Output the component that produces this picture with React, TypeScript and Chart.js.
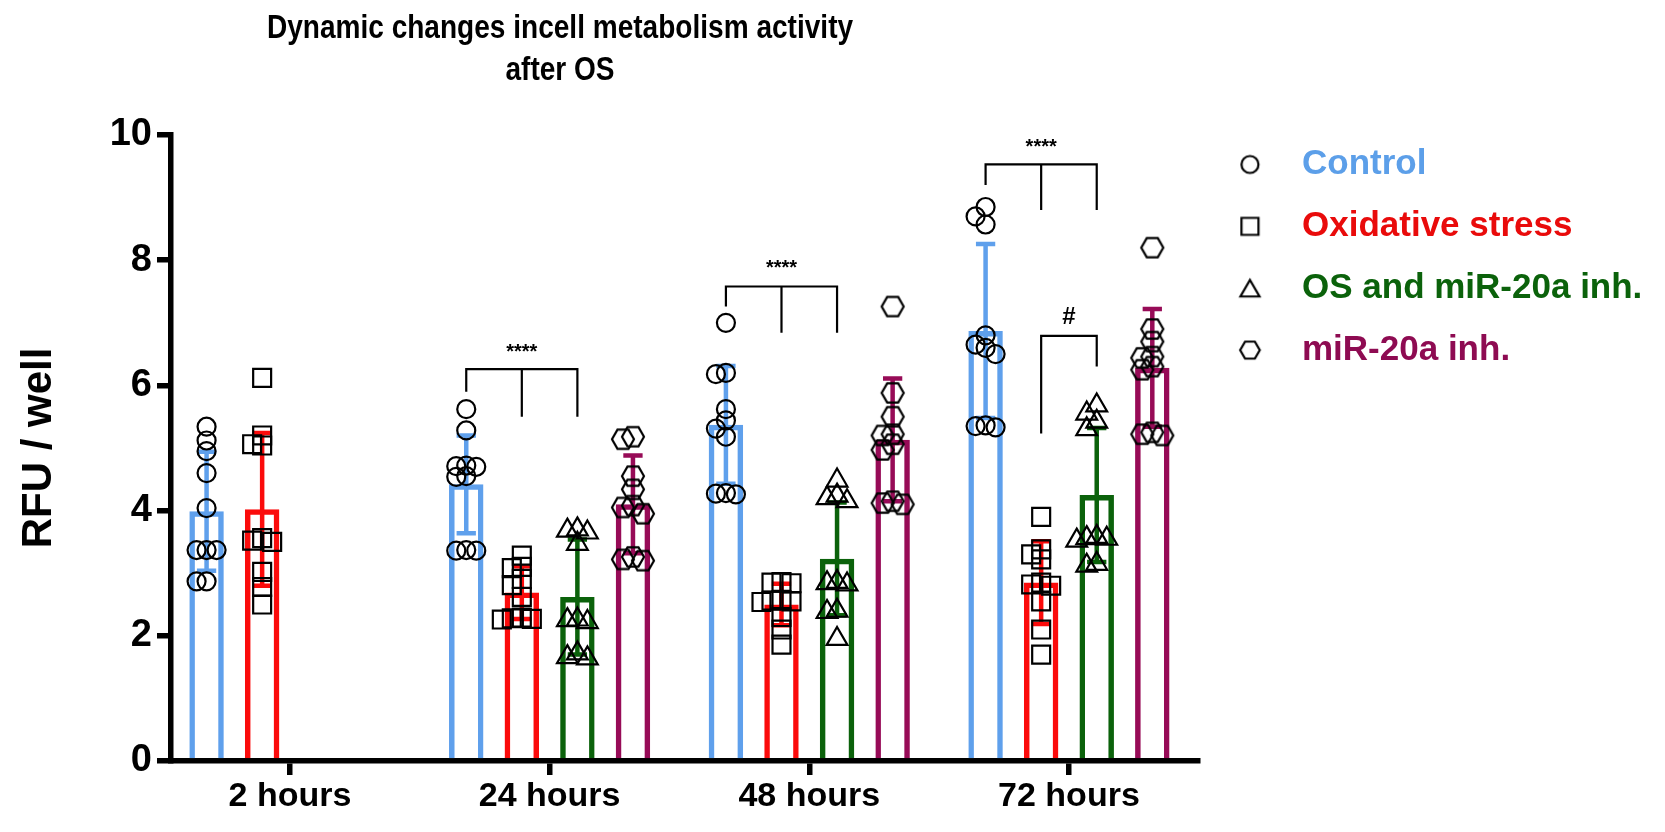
import React, { useEffect, useRef } from "react";
import { Chart, registerables } from "chart.js";

Chart.register(...registerables);

// ---------------- data ----------------
const categories = ["2 hours", "24 hours", "48 hours", "72 hours"];
const seriesNames = ["Control", "Oxidative stress", "OS and miR-20a inh.", "miR-20a inh."];

const controlMean = [3.99, 4.42, 5.37, 6.87];
const controlSD = [0.95, 0.78, 0.94, 1.39];
const oxidativeMean = [4.02, 2.69, 2.5, 2.85];
const oxidativeSD = [1.22, 0.42, 0.33, 0.66];
const osInhMean: (number | null)[] = [null, 2.62, 3.23, 4.25];
const osInhSD: (number | null)[] = [null, 0.92, 0.9, 1.07];
const inhMean: (number | null)[] = [null, 4.1, 5.13, 6.28];
const inhSD: (number | null)[] = [null, 0.78, 0.98, 0.94];

const controlPoints = [
  [5.34, 5.12, 4.95, 4.6, 4.04, 3.37, 3.37, 3.37, 2.87, 2.87],
  [5.62, 5.28, 4.72, 4.71, 4.7, 4.55, 4.54, 3.37, 3.36, 3.36],
  [7.0, 6.2, 6.18, 5.62, 5.44, 5.31, 5.18, 4.28, 4.27, 4.26],
  [8.85, 8.7, 8.57, 6.8, 6.65, 6.6, 6.5, 5.36, 5.35, 5.33],
];
const oxidativePoints = [
  [6.12, 5.2, 5.06, 5.04, 3.56, 3.52, 3.5, 3.02, 2.78, 2.5],
  [3.28, 3.1, 3.08, 2.91, 2.81, 2.62, 2.29, 2.28, 2.27, 2.26],
  [2.86, 2.85, 2.84, 2.57, 2.56, 2.55, 2.54, 2.3, 2.1, 1.86],
  [3.9, 3.38, 3.3, 3.22, 2.85, 2.82, 2.8, 2.55, 2.1, 1.7],
];
const osInhPoints: number[][] = [
  [],
  [3.7, 3.68, 3.65, 3.47, 2.26, 2.25, 2.22, 1.72, 1.66, 1.64],
  [4.48, 4.24, 4.2, 4.15, 2.86, 2.84, 2.82, 2.4, 2.38, 1.95],
  [5.68, 5.55, 5.42, 5.3, 3.58, 3.56, 3.55, 3.52, 3.15, 3.12],
];
const inhPoints: number[][] = [
  [],
  [5.18, 5.14, 4.55, 4.34, 4.08, 4.05, 3.95, 3.26, 3.22, 3.2],
  [7.26, 5.88, 5.5, 5.22, 5.2, 5.06, 4.97, 4.15, 4.12, 4.1],
  [8.2, 6.9, 6.7, 6.46, 6.44, 6.3, 6.25, 5.25, 5.22, 5.2],
];

const yTicks = [0, 2, 4, 6, 8, 10];

// significance brackets
const bracketCategory = [1, 2, 3, 3];
const bracketFromSeries = [0, 0, 0, 1];
const bracketMidSeries: (number | null)[] = [1, 1, 1, null];
const bracketToSeries = [2, 2, 2, 2];
const bracketTop = [6.26, 7.58, 9.53, 6.79];
const bracketFromEnd = [5.9, 7.26, 9.2, 5.23];
const bracketToEnd = [5.5, 6.84, 8.8, 6.3];
const bracketLabels = ["****", "****", "****", "#"];
const bracketLabelY = [6.52, 7.86, 9.8, 7.08];

const titleLines = ["Dynamic changes incell metabolism activity", "after OS"];
const yAxisTitle = "RFU / well";

// ---------------- layout / style ----------------
const W = 1665;
const H = 832;
const PLOT_LEFT = 171;
const PLOT_RIGHT = 1198;
const PLOT_TOP = 135;
const PLOT_BOTTOM = 761;
const X_MIN = -0.458;
const X_MAX = 3.497;
const CAT_PCT = 0.856;
const BAR_PCT = 0.62;
const PX_PER_X = (PLOT_RIGHT - PLOT_LEFT) / (X_MAX - X_MIN);
const PX_PER_Y = (PLOT_BOTTOM - PLOT_TOP) / 10;

const barColors = ["#5fa0ec", "#fb0b0b", "#0b620b", "#970b57"];
const legendTextColors = ["#5c9fe9", "#e90b0b", "#0b620b", "#8e0b52"];

const means = [controlMean, oxidativeMean, osInhMean, inhMean];
const sds = [controlSD, oxidativeSD, osInhSD, inhSD];
const points = [controlPoints, oxidativePoints, osInhPoints, inhPoints];

function markerCanvas(kind: string, w: number, h: number, s: number, lw: number, dx = 0) {
  const c = document.createElement("canvas");
  c.width = w;
  c.height = h;
  const g = c.getContext("2d")!;
  g.strokeStyle = "#000";
  g.lineWidth = lw;
  const cx = w / 2 + dx;
  let cy = h / 2;
  g.beginPath();
  if (kind === "circle") {
    g.arc(cx, cy, s, 0, Math.PI * 2);
  } else if (kind === "square") {
    g.rect(cx - s, cy - s, 2 * s, 2 * s);
  } else if (kind === "triangle") {
    cy += s / 4;
    for (let k = 0; k < 3; k++) {
      const a = -Math.PI / 2 + (k * 2 * Math.PI) / 3;
      const px = cx + s * Math.cos(a);
      const py = cy + s * Math.sin(a);
      if (k === 0) g.moveTo(px, py);
      else g.lineTo(px, py);
    }
  } else {
    for (let k = 0; k < 6; k++) {
      const a = (k * Math.PI) / 3;
      const px = cx + s * Math.cos(a);
      const py = cy + s * Math.sin(a);
      if (k === 0) g.moveTo(px, py);
      else g.lineTo(px, py);
    }
  }
  g.closePath();
  g.stroke();
  return c;
}

// spread overlapping points sideways (pixel-space swarm)
function swarm(values: number[], center: number) {
  const step = 10;
  const placed: { px: number; py: number }[] = [];
  const out: { x: number; y: number }[] = [];
  const order = values.map((_, i) => i).sort((a, b) => values[b] - values[a]);
  for (const i of order) {
    const py = values[i] * PX_PER_Y;
    let chosen = 0;
    for (let k = 0; k < 15; k++) {
      const m = Math.ceil(k / 2);
      const cand = k === 0 ? 0 : (k % 2 === 1 ? -m : m) * step;
      if (placed.every((p) => Math.hypot(p.px - cand, p.py - py) >= step)) {
        chosen = cand;
        break;
      }
    }
    placed.push({ px: chosen, py });
    out.push({ x: center + chosen / PX_PER_X, y: values[i] });
  }
  return out;
}

const errorBarPlugin = {
  id: "errorBars",
  afterDatasetDraw(chart: any, args: any) {
    const idx = args.index;
    if (idx > 3) return;
    const meta = chart.getDatasetMeta(idx);
    const yScale = chart.scales.y;
    const ctx = chart.ctx;
    ctx.save();
    ctx.strokeStyle = barColors[idx];
    ctx.lineWidth = 4.5;
    means[idx].forEach((m, c) => {
      const sd = sds[idx][c];
      if (m == null || sd == null) return;
      const el = meta.data[c];
      const x = el.x;
      const half = el.width * 0.28;
      const yT = yScale.getPixelForValue(m + sd);
      const yB = yScale.getPixelForValue(m - sd);
      ctx.beginPath();
      ctx.moveTo(x, yT);
      ctx.lineTo(x, yB);
      ctx.moveTo(x - half, yT);
      ctx.lineTo(x + half, yT);
      ctx.moveTo(x - half, yB);
      ctx.lineTo(x + half, yB);
      ctx.stroke();
    });
    ctx.restore();
  },
};

const bracketPlugin = {
  id: "sigBrackets",
  afterDatasetsDraw(chart: any, _a: any, opts: any) {
    const ctx = chart.ctx;
    const y = chart.scales.y;
    const barX = (s: number, c: number) => chart.getDatasetMeta(s).data[c].x;
    ctx.save();
    ctx.strokeStyle = "#000";
    ctx.fillStyle = "#000";
    ctx.lineWidth = 2.2;
    bracketCategory.forEach((cat, i) => {
      const x1 = barX(bracketFromSeries[i], cat);
      const x2 = barX(bracketToSeries[i], cat);
      const yTop = y.getPixelForValue(bracketTop[i]);
      ctx.beginPath();
      ctx.moveTo(x1, y.getPixelForValue(bracketFromEnd[i]));
      ctx.lineTo(x1, yTop);
      ctx.lineTo(x2, yTop);
      ctx.lineTo(x2, y.getPixelForValue(bracketToEnd[i]));
      const mid = bracketMidSeries[i];
      if (mid != null) {
        const xm = barX(mid, cat);
        ctx.moveTo(xm, yTop);
        ctx.lineTo(xm, y.getPixelForValue(bracketToEnd[i]));
      }
      ctx.stroke();
      ctx.font = bracketLabels[i] === "#" ? opts.hashFont : opts.starFont;
      ctx.textAlign = "center";
      ctx.textBaseline = "middle";
      ctx.fillText(bracketLabels[i], (x1 + x2) / 2, y.getPixelForValue(bracketLabelY[i]));
    });
    ctx.restore();
  },
};

const titlePlugin = {
  id: "figTitle",
  afterDraw(chart: any, _a: any, opts: any) {
    const ctx = chart.ctx;
    ctx.save();
    ctx.fillStyle = "#000";
    ctx.font = opts.font;
    ctx.textAlign = "center";
    ctx.textBaseline = "middle";
    titleLines.forEach((t, i) => {
      ctx.save();
      ctx.translate(opts.x, opts.y + i * opts.gap);
      ctx.scale(opts.squeeze, 1);
      ctx.fillText(t, 0, 0);
      ctx.restore();
    });
    ctx.restore();
  },
};

export default function App() {
  const ref = useRef<HTMLCanvasElement | null>(null);

  useEffect(() => {
    const canvas = ref.current;
    if (!canvas) return;

    const SANS = '"Liberation Sans", Arial, sans-serif';
    const probe = document.createElement("canvas").getContext("2d")!;

    const legendSize = 35;
    const legendPad = 12;
    const boxW = 74.5;
    probe.font = `bold ${legendSize}px ${SANS}`;
    const maxText = Math.max(...seriesNames.map((n) => probe.measureText(n).width));
    const legendWidth = legendPad + boxW + legendSize / 2 + maxText + 10;
    const padRight = Math.max(0, W - PLOT_RIGHT - legendWidth);

    const legendMarkers = [
      markerCanvas("circle", 34, 26, 8.5, 2.2, 2.75),
      markerCanvas("square", 34, 26, 8.5, 2.2, 2.75),
      markerCanvas("triangle", 34, 28, 11, 2.2, 2.75),
      markerCanvas("hexagon", 34, 26, 9.8, 2.2, 2.75),
    ];
    const hexPoint = markerCanvas("hexagon", 30, 28, 11, 2.2);
    const pointStyles: any[] = ["circle", "rect", "triangle", hexPoint];
    const pointRadii = [9, 12.7, 12, 11];

    const barDatasets = means.map((m, i) => ({
      type: "bar" as const,
      label: seriesNames[i],
      data: m.map((v, c) => ({ x: c, y: v })),
      backgroundColor: "rgba(255,255,255,0)",
      borderColor: barColors[i],
      borderWidth: 5.5,
      borderSkipped: "start" as const,
      categoryPercentage: CAT_PCT,
      barPercentage: BAR_PCT,
      order: 2,
    }));

    const scatterDatasets = points.map((ser, i) => ({
      type: "scatter" as const,
      label: seriesNames[i] + " points",
      data: ser.flatMap((vals, c) => swarm(vals, c + ((i - 1.5) * CAT_PCT) / 4)),
      pointStyle: pointStyles[i],
      pointRadius: pointRadii[i],
      pointBorderColor: "#000",
      pointBackgroundColor: "rgba(0,0,0,0)",
      pointBorderWidth: 2.2,
      order: 1,
    }));

    const axisGrid = {
      display: true,
      drawOnChartArea: false,
      drawTicks: true,
      offset: false,
      tickLength: 14,
      lineWidth: 5.5,
      color: "#000",
      tickColor: "#000",
    };

    const chart = new Chart(canvas, {
      type: "bar",
      data: { datasets: [...barDatasets, ...scatterDatasets] as any },
      plugins: [errorBarPlugin, bracketPlugin, titlePlugin],
      options: {
        animation: false,
        responsive: false,
        events: [],
        layout: { padding: { left: 0, top: PLOT_TOP, right: padRight, bottom: 0 } },
        scales: {
          x: {
            type: "linear",
            min: X_MIN,
            max: X_MAX,
            offset: false,
            afterBuildTicks: (s: any) => {
              s.ticks = categories.map((_, i) => ({ value: i }));
            },
            afterFit: (s: any) => {
              s.height = H - PLOT_BOTTOM;
            },
            ticks: {
              callback: (v: any) => categories[v as number] ?? "",
              color: "#000",
              padding: 1,
              autoSkip: false,
              maxRotation: 0,
              font: { family: SANS, size: 34, weight: "bold" },
            },
            grid: axisGrid as any,
            border: { display: true, width: 5.5, color: "#000" },
          },
          y: {
            type: "linear",
            min: 0,
            max: 10,
            afterBuildTicks: (s: any) => {
              s.ticks = yTicks.map((v) => ({ value: v }));
            },
            afterFit: (s: any) => {
              s.width = PLOT_LEFT;
            },
            ticks: {
              color: "#000",
              padding: 5,
              font: { family: SANS, size: 38, weight: "bold" },
            },
            title: {
              display: true,
              text: yAxisTitle,
              color: "#000",
              padding: { top: 14, bottom: 0 },
              font: { family: SANS, size: 42, weight: "bold" },
            },
            grid: axisGrid as any,
            border: { display: true, width: 5.5, color: "#000" },
          },
        },
        plugins: {
          tooltip: { enabled: false },
          title: { display: false },
          legend: {
            display: true,
            position: "right",
            align: "start",
            maxWidth: 800,
            labels: {
              usePointStyle: true,
              pointStyleWidth: boxW,
              padding: legendPad,
              font: { family: SANS, size: legendSize, weight: "bold", lineHeight: 1.425 },
              generateLabels: () =>
                seriesNames.map((n, i) => ({
                  text: [n] as any,
                  fontColor: legendTextColors[i],
                  pointStyle: legendMarkers[i] as any,
                  fillStyle: "rgba(0,0,0,0)",
                  strokeStyle: "#000",
                  lineWidth: 0,
                  hidden: false,
                  datasetIndex: i,
                })),
            },
          } as any,
          figTitle: {
            x: 560,
            y: 29,
            gap: 42,
            squeeze: 0.85,
            font: `bold 33px ${SANS}`,
          },
          sigBrackets: {
            starFont: `bold 20px ${SANS}`,
            hashFont: `bold 24px ${SANS}`,
          },
        } as any,
      },
    });

    return () => chart.destroy();
  }, []);

  return (
    <div style={{ position: "fixed", left: 0, top: 0, width: W, height: H, background: "#fff" }}>
      <canvas ref={ref} width={W} height={H} style={{ display: "block", width: W, height: H }} />
    </div>
  );
}
